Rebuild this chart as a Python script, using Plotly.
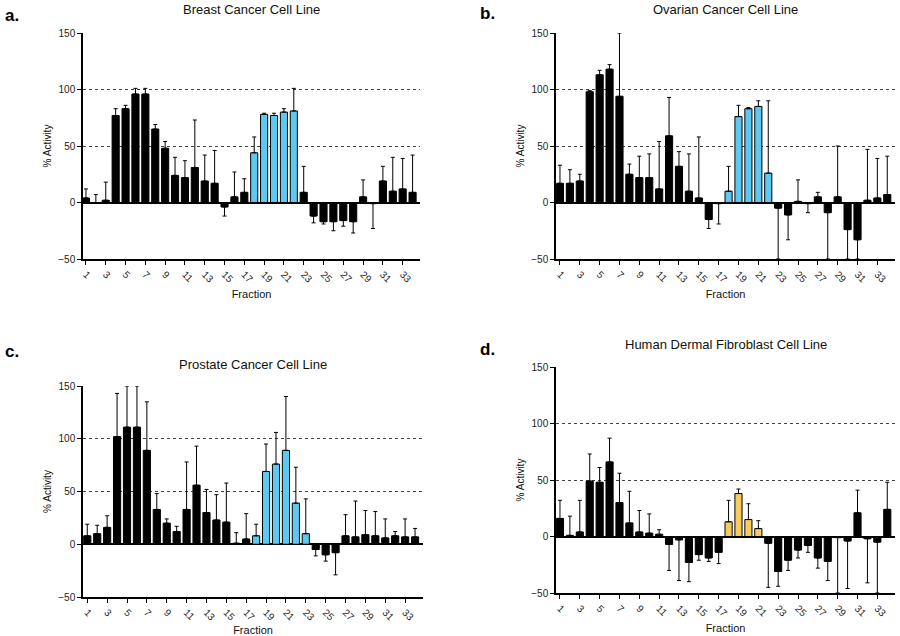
import plotly.graph_objects as go
from plotly.subplots import make_subplots

fractions = list(range(1, 35))
tick_vals = list(range(1, 34, 2))

# panel a - breast cancer
breast_val = [4, 0, 2, 77, 83, 96, 96, 65, 48, 24, 22, 31, 19, 17, -4, 5, 9,
              44, 78, 77, 80, 81, 9, -12, -17, -17, -16, -17, 5, -1, 19, 10, 12, 9]
breast_err = [12, 7, 18, 83, 86, 101, 101, 69, 54, 40, 37, 73, 42, 46, -12, 27, 21,
              58, 79, 79, 83, 101, 32, -18, -19, -25, -21, -27, 20, -23, 32, 40, 39, 42]

# panel b - ovarian cancer
ovarian_val = [17, 17, 19, 98, 113, 118, 94, 25, 22, 22, 12, 59, 32, 10, 4, -15, -1,
               10, 76, 83, 85, 26, -5, -11, 1, -1, 5, -9, 5, -24, -33, 2, 4, 7]
ovarian_err = [33, 29, 25, 99, 117, 122, 150, 34, 41, 43, 54, 93, 45, 43, 58, -23, -19,
               32, 86, 84, 90, 90, -50, -33, 20, -9, 9, -50, 50, -50, -50, 47, 39, 41]

# panel c - prostate cancer
prostate_val = [8, 10, 16, 102, 111, 111, 89, 33, 20, 12, 33, 56, 30, 23, 21, 1, 5,
                8, 69, 76, 89, 39, 10, -5, -10, -8, 8, 7, 9, 8, 6, 8, 7, 7]
prostate_err = [19, 18, 27, 143, 150, 150, 135, 48, 24, 17, 78, 93, 52, 47, 58, 11, 29,
                19, 95, 106, 140, 73, 43, -11, -16, -29, 28, 41, 32, 31, 24, 12, 24, 15]

# panel d - human dermal fibroblast
fibro_val = [16, 1, 4, 49, 48, 66, 30, 12, 4, 3, 2, -7, -3, -23, -16, -19, -14,
             13, 38, 15, 7, -6, -31, -21, -12, -8, -19, -22, -1, -4, 21, -2, -5, 24]
fibro_err = [32, 18, 32, 73, 61, 87, 56, 40, 23, 20, 6, -30, -39, -40, -21, -22, -24,
             32, 42, 29, 14, -45, -44, -30, -19, -14, -28, -39, -50, -46, 41, -41, -50, 48]

BLUE = "#5DC9F3"
GOLD = "#F6CC5E"

panels = [
    ("Breast Cancer Cell Line", breast_val, breast_err, range(18, 23), BLUE),
    ("Ovarian Cancer Cell Line", ovarian_val, ovarian_err, range(18, 23), BLUE),
    ("Prostate Cancer Cell Line", prostate_val, prostate_err, range(18, 24), BLUE),
    ("Human Dermal Fibroblast Cell Line", fibro_val, fibro_err, range(18, 22), GOLD),
]

# pixel boxes of the plot areas: (left, right, top, bottom, xmin, xmax, title_y)
boxes = [
    (83, 420, 33, 259, 0.7, 34.75, 10),
    (556, 895, 33, 259, 0.6, 34.78, 10),
    (83, 423, 386, 597, 0.57, 34.8, 364),
    (556, 895, 367, 593, 0.6, 34.78, 344),
]
W, H = 900, 636
FONT = "Liberation Sans, Arial, sans-serif"

fig = make_subplots(rows=2, cols=2)

for i, (title, vals, errs, hi, hi_col) in enumerate(panels):
    row, col = i // 2 + 1, i % 2 + 1
    colors = [hi_col if f in hi else "black" for f in fractions]
    # one-sided error bars: away from zero
    plus = [e - v if e > v else 0 for v, e in zip(vals, errs)]
    minus = [v - e if e < v else 0 for v, e in zip(vals, errs)]
    fig.add_trace(go.Bar(
        x=fractions, y=vals,
        marker=dict(color=colors, line=dict(color="black", width=1)),
        error_y=dict(type="data", symmetric=False, array=plus, arrayminus=minus,
                     color="black", thickness=1, width=2),
        showlegend=False,
    ), row=row, col=col)

    l, r, t, b, x0, x1, ty = boxes[i]
    fig.update_xaxes(domain=[l / W, r / W], range=[x0, x1], tickvals=tick_vals,
                     ticktext=[str(v) for v in tick_vals], tickangle=45,
                     ticks="outside", ticklen=4, tickwidth=1, tickcolor="black",
                     showline=True, linecolor="black", linewidth=1.5,
                     showgrid=False, zeroline=False, automargin=False,
                     tickfont=dict(size=10, color="#222"),
                     title=dict(text="Fraction", font=dict(size=11, color="#111"), standoff=6),
                     row=row, col=col)
    fig.update_yaxes(domain=[1 - b / H, 1 - t / H], range=[-50, 150],
                     tickvals=[-50, 0, 50, 100, 150],
                     ticks="outside", ticklen=4, tickwidth=1, tickcolor="black",
                     showline=True, linecolor="black", linewidth=1.5,
                     showgrid=True, gridcolor="#444", griddash="dot", gridwidth=1,
                     zeroline=True, zerolinecolor="black", zerolinewidth=1.5,
                     automargin=False,
                     tickfont=dict(size=10, color="#222"),
                     title=dict(text="% Activity", font=dict(size=10, color="#111"), standoff=5),
                     row=row, col=col)

    fig.add_annotation(text=title, x=(l + r) / 2 / W, y=1 - ty / H,
                       xref="paper", yref="paper", showarrow=False,
                       font=dict(size=13, color="#111", family=FONT),
                       xanchor="center", yanchor="middle")

letters = [("a.", 3, 15), ("b.", 478, 13), ("c.", 3, 351), ("d.", 478, 349)]
for txt, px_, py_ in letters:
    fig.add_annotation(text="<b>%s</b>" % txt, x=px_ / W, y=1 - py_ / H,
                       xref="paper", yref="paper", showarrow=False,
                       font=dict(size=17, color="black", family=FONT),
                       xanchor="left", yanchor="middle")

fig.update_layout(
    width=W, height=H,
    margin=dict(l=0, r=0, t=0, b=0),
    plot_bgcolor="white", paper_bgcolor="white",
    bargap=0.28,
    font=dict(family=FONT),
)

fig.write_html("out.html", config={"displayModeBar": False},
               post_script="document.body.style.margin='0';document.body.style.overflow='hidden';")
